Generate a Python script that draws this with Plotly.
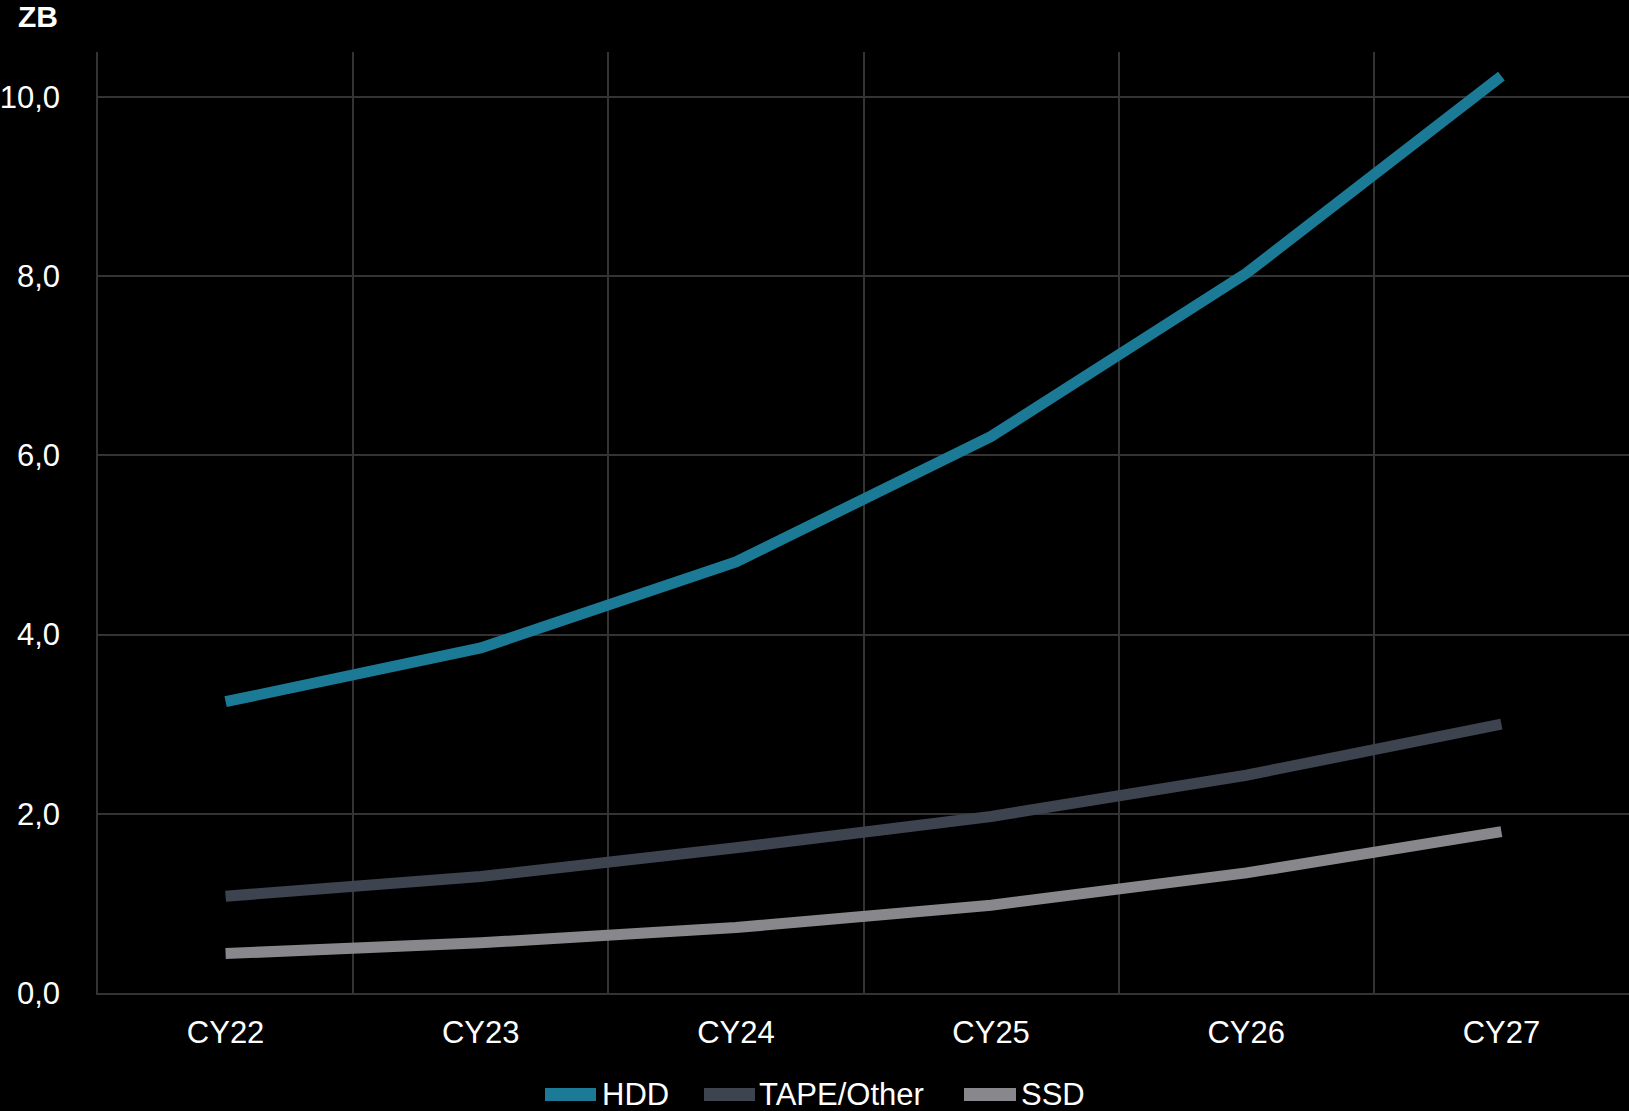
import plotly.graph_objects as go

categories = ["CY22", "CY23", "CY24", "CY25", "CY26", "CY27"]
hdd = [3.25, 3.85, 4.81, 6.21, 8.03, 10.23]
tape_other = [1.08, 1.30, 1.62, 1.97, 2.43, 3.00]
ssd = [0.44, 0.56, 0.73, 0.98, 1.34, 1.80]
series_names = ["HDD", "TAPE/Other", "SSD"]
series_values = [hdd, tape_other, ssd]
series_colors = ["#1B7B97", "#3D4450", "#88878B"]
y_ticks = [0, 2, 4, 6, 8, 10]

W, H = 1629, 1111
ML, MR, MT, MB = 98, 0, 52, 118
PW, PH = W - ML - MR, H - MT - MB
FONT = "Liberation Sans, Arial, sans-serif"
GRID = "#333333"
FS = 31


def px_x(x):
    return (x - ML) / PW


def px_y(y):
    return (H - MB - y) / PH


fig = go.Figure()
for name, vals, col in zip(series_names, series_values, series_colors):
    fig.add_trace(go.Scatter(x=categories, y=vals, name=name, mode="lines",
                             line=dict(color=col, width=11), showlegend=False))

# custom legend (wide swatches like the reference)
legend_swatch_x = [(545, 596), (704, 755), (964, 1016)]
legend_text_x = [600, 757, 1019]
sw_top, sw_bot, text_mid = 1088, 1101, 1094
shapes = []
annotations = []
for name, col, (x0, x1), tx in zip(series_names, series_colors, legend_swatch_x, legend_text_x):
    shapes.append(dict(type="rect", xref="paper", yref="paper",
                       x0=px_x(x0), x1=px_x(x1), y0=px_y(sw_bot), y1=px_y(sw_top),
                       fillcolor=col, line=dict(width=0)))
    annotations.append(dict(text=name, xref="paper", yref="paper", x=px_x(tx), y=px_y(text_mid),
                            xanchor="left", yanchor="middle", showarrow=False,
                            font=dict(family=FONT, size=FS, color="white")))

annotations.append(dict(text="<b>ZB</b>", xref="paper", yref="paper", x=px_x(16), y=px_y(17),
                        xanchor="left", yanchor="middle", showarrow=False,
                        font=dict(family=FONT, size=30, color="white")))

fig.update_layout(
    width=W, height=H,
    margin=dict(l=ML, r=MR, t=MT, b=MB),
    paper_bgcolor="black", plot_bgcolor="black",
    separators=",.",
    font=dict(family=FONT, size=FS, color="white"),
    shapes=shapes, annotations=annotations,
    showlegend=False,
)
fig.update_xaxes(type="category", range=[-0.5, 5.5], tickson="boundaries",
                 showgrid=True, gridcolor=GRID, gridwidth=1.5,
                 showline=True, linecolor=GRID, linewidth=1.5, ticks="",
                 ticklabelstandoff=11, automargin=False,
                 tickfont=dict(family=FONT, size=FS, color="white"))
fig.update_yaxes(range=[0, 10.5], tickvals=y_ticks, tickformat=".1f",
                 showgrid=True, gridcolor=GRID, gridwidth=1.5, zeroline=False,
                 showline=True, linecolor=GRID, linewidth=1.5, ticks="",
                 ticklabelstandoff=30, automargin=False,
                 tickfont=dict(family=FONT, size=FS, color="white"))

fig.write_html("out.html")
